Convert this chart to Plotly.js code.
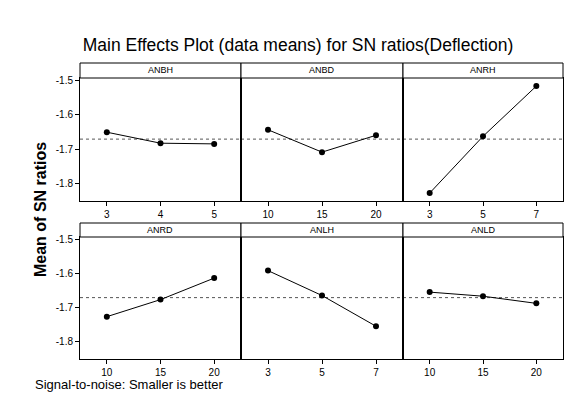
<!DOCTYPE html>
<html>
<head>
<meta charset="utf-8">
<script src="https://cdn.plot.ly/plotly-3.0.1.min.js"></script>
<style>html,body{margin:0;padding:0;background:#fff;}#chart{width:584px;height:405px;}</style>
</head>
<body>
<div id="chart"></div>
<script>
// Factor names and levels
const factors = ["ANBH", "ANBD", "ANRH", "ANRD", "ANLH", "ANLD"];
const levelsANBH = [3, 4, 5];
const levelsANBD = [10, 15, 20];
const levelsANRH = [3, 5, 7];
const levelsANRD = [10, 15, 20];
const levelsANLH = [3, 5, 7];
const levelsANLD = [10, 15, 20];
// Mean SN ratios per level
const snANBH = [-1.651, -1.683, -1.685];
const snANBD = [-1.644, -1.709, -1.660];
const snANRH = [-1.828, -1.663, -1.517];
const snANRD = [-1.727, -1.677, -1.614];
const snANLH = [-1.592, -1.665, -1.755];
const snANLD = [-1.655, -1.667, -1.688];
// Y tick labels
const yTickVals = [-1.5, -1.6, -1.7, -1.8];
const yTickText = ["-1.5", "-1.6", "-1.7", "-1.8"];

const levels = [levelsANBH, levelsANBD, levelsANRH, levelsANRD, levelsANLH, levelsANLD];
const values = [snANBH, snANBD, snANRH, snANRD, snANLH, snANLD];
const all = values.flat();
const grandMean = all.reduce((a, b) => a + b, 0) / all.length;

const font = "Liberation Sans, Arial, sans-serif";
const W = 584, H = 405;
const px = v => v / W;
const py = v => 1 - v / H;
const xDom = [[px(80), px(241)], [px(241), px(403)], [px(403), px(563)]];
const rows = [
  {data: [py(201), py(78)], head: [py(78), py(63)]},
  {data: [py(359), py(237)], head: [py(237), py(223)]}
];
const yRange = [-1.851, -1.4935];

const traces = [];
const layout = {
  width: W, height: H,
  margin: {l: 0, r: 0, t: 0, b: 0},
  paper_bgcolor: "#fff", plot_bgcolor: "#fff",
  showlegend: false,
  font: {family: font, color: "#000", size: 10},
  title: {text: "Main Effects Plot (data means) for SN ratios(Deflection)",
          font: {family: font, size: 17.5, color: "#000"},
          x: px(298), xanchor: "center", y: py(45), yanchor: "middle"},
  shapes: [], annotations: []
};

for (let i = 0; i < 6; i++) {
  const r = Math.floor(i / 3), c = i % 3;
  const n = i + 1;
  const lv = levels[i];
  const step = lv[1] - lv[0];
  traces.push({
    type: "scatter", mode: "lines+markers",
    x: lv, y: values[i], xaxis: "x" + n, yaxis: "y" + n,
    line: {color: "#000", width: 1},
    marker: {color: "#000", size: 6},
    hoverinfo: "skip"
  });
  const xKey = "xaxis" + (n === 1 ? "" : n), yKey = "yaxis" + (n === 1 ? "" : n);
  layout[xKey] = {
    domain: xDom[c], anchor: "y" + n,
    range: [lv[0] - step / 2, lv[lv.length - 1] + step / 2],
    tickvals: lv, ticktext: lv.map(String),
    ticks: "outside", ticklen: 4, tickcolor: "#000",
    tickfont: {family: font, size: 10, color: "#000"},
    showgrid: false, zeroline: false,
    showline: true, linecolor: "#000", linewidth: 1, mirror: true
  };
  layout[yKey] = {
    domain: rows[r].data, anchor: "x" + n,
    range: yRange,
    tickvals: yTickVals, ticktext: yTickText,
    ticks: c === 0 ? "outside" : "", ticklen: 4, tickcolor: "#000",
    showticklabels: c === 0,
    tickfont: {family: font, size: 10, color: "#000"},
    showgrid: false, zeroline: false,
    showline: true, linecolor: "#000", linewidth: 1, mirror: true
  };
  // header strip
  layout.shapes.push({
    type: "rect", xref: "paper", yref: "paper",
    x0: xDom[c][0], x1: xDom[c][1], y0: rows[r].head[0], y1: rows[r].head[1],
    line: {color: "#000", width: 1}, fillcolor: "#fff", layer: "above"
  });
  layout.annotations.push({
    xref: "paper", yref: "paper",
    x: (xDom[c][0] + xDom[c][1]) / 2, y: (rows[r].head[0] + rows[r].head[1]) / 2,
    text: factors[i], showarrow: false,
    font: {family: font, size: 9, color: "#000"},
    xanchor: "center", yanchor: "middle"
  });
  // grand mean reference line
  layout.shapes.push({
    type: "line", xref: "x" + n + " domain", yref: "y" + n,
    x0: 0, x1: 1, y0: grandMean, y1: grandMean,
    line: {color: "#555", width: 1, dash: "dot"}, layer: "below"
  });
}

layout.annotations.push({
  xref: "paper", yref: "paper", x: px(40), y: py(210),
  text: "<b>Mean of SN ratios</b>", textangle: -90, showarrow: false,
  font: {family: font, size: 16, color: "#000"},
  xanchor: "center", yanchor: "middle"
});
layout.annotations.push({
  xref: "paper", yref: "paper", x: px(33), y: py(384),
  text: "Signal-to-noise: Smaller is better", showarrow: false,
  font: {family: font, size: 13, color: "#000"},
  xanchor: "left", yanchor: "middle"
});

Plotly.newPlot("chart", traces, layout, {displayModeBar: false, staticPlot: true});
</script>
</body>
</html>
